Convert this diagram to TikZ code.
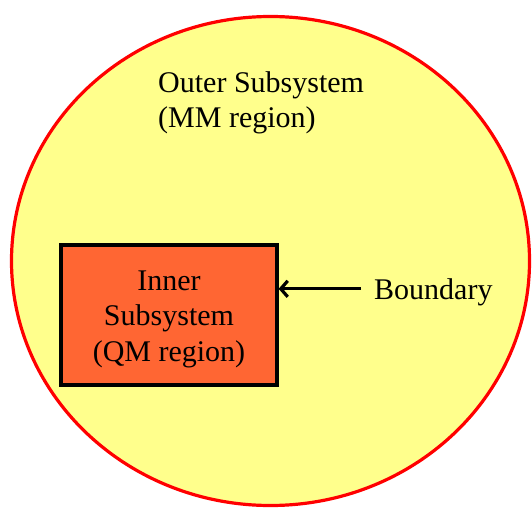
\documentclass[tikz,border=0pt]{standalone}
\usepackage{fontspec}
\setmainfont{Liberation Serif}
\usetikzlibrary{shapes,arrows.meta,positioning,calc}
\definecolor{outeryellow}{RGB}{255,255,140}
\definecolor{innerorange}{RGB}{255,102,51}
\definecolor{boundred}{RGB}{255,0,0}

\begin{document}
\begin{tikzpicture}[x=1pt,y=-1pt]
\tikzstyle{txt} = [font=\fontsize{30}{35.5}\selectfont, inner sep=0pt];
\tikzstyle{region} = [line width=3.2pt];
\useasboundingbox (0,0) rectangle (532,508);

% MM region
\node (outer) [ellipse, region, fill=outeryellow, draw=boundred, minimum width=518pt, minimum height=489pt, inner sep=0pt] at (270.5,261) {};
\node (outertxt) [txt, align=left, anchor=north west] at (158,71) {Outer Subsystem\\(MM region)};

% QM region
\node (inner) [rectangle, region, fill=innerorange, draw=black, minimum width=216pt, minimum height=140pt] at (169,315) {};
\node (innertxt) [txt, align=center] at ([yshift=-4pt]inner.center) {Inner\\Subsystem\\(QM region)};

\node (bound) [txt, inner xsep=13pt, anchor=base west] at (361,299) {Boundary};
\draw[region, -{Straight Barb[length=7pt,width=16pt]}] ([yshift=3pt]bound.west) -- ([yshift=3pt]bound.west -| inner.east);
\end{tikzpicture}
\end{document}
